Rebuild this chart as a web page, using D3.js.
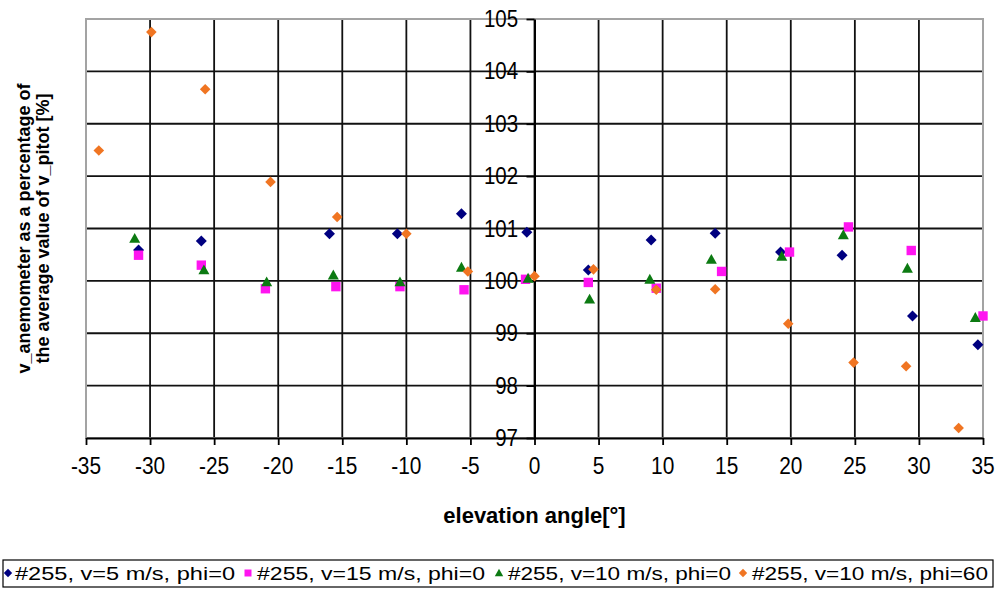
<!DOCTYPE html>
<html>
<head>
<meta charset="utf-8">
<script src="https://cdn.jsdelivr.net/npm/d3@7"></script>
<style>
  body { margin: 0; background: #fff; }
  svg { display: block; }
  text { font-family: "Liberation Sans", Arial, sans-serif; fill: #000; }
</style>
</head>
<body>
<svg id="chart" width="997" height="590"></svg>
<script>
// ---- data -------------------------------------------------------------
const xTickValues = [-35, -30, -25, -20, -15, -10, -5, 0, 5, 10, 15, 20, 25, 30, 35];
const yTickValues = [97, 98, 99, 100, 101, 102, 103, 104, 105];

const seriesNames = [
  "#255, v=5 m/s, phi=0",
  "#255, v=15 m/s, phi=0",
  "#255, v=10 m/s, phi=0",
  "#255, v=10 m/s, phi=60"
];

// #255, v=5 m/s, phi=0
const angleV5 = [-30.9, -26.0, -16.0, -10.7, -5.7, -0.6, 4.2, 9.1, 14.1, 19.2, 24.0, 29.5, 34.6];
const valueV5 = [100.59, 100.76, 100.90, 100.90, 101.28, 100.93, 100.21, 100.78, 100.91, 100.55, 100.49, 99.33, 98.78];

// #255, v=15 m/s, phi=0
const angleV15 = [-30.9, -26.0, -21.0, -15.5, -10.5, -5.5, -0.7, 4.2, 9.5, 14.6, 19.9, 24.5, 29.4, 35.0];
const valueV15 = [100.49, 100.30, 99.85, 99.89, 99.89, 99.83, 100.03, 99.97, 99.86, 100.18, 100.55, 101.03, 100.58, 99.33];

// #255, v=10 m/s, phi=0
const angleV10 = [-31.2, -25.8, -20.9, -15.7, -10.5, -5.7, -0.5, 4.3, 9.0, 13.8, 19.3, 24.1, 29.1, 34.4];
const valueV10 = [100.81, 100.21, 99.98, 100.11, 99.98, 100.26, 100.05, 99.65, 100.03, 100.41, 100.47, 100.88, 100.24, 99.30];

// #255, v=10 m/s, phi=60
const angleV10p60 = [-34.0, -29.9, -25.7, -20.6, -15.4, -10.0, -5.2, 0.0, 4.6, 9.5, 14.1, 19.8, 24.9, 29.0, 33.1];
const valueV10p60 = [102.49, 104.75, 103.66, 101.89, 101.22, 100.90, 100.18, 100.09, 100.22, 99.83, 99.84, 99.18, 98.44, 98.37, 97.19];

// ---- layout ------------------------------------------------------------
const plot = { left: 86, right: 983, top: 19, bottom: 438 };

const svg = d3.select("#chart");
const x = d3.scaleLinear().domain([-35, 35]).range([plot.left, plot.right]);
const y = d3.scaleLinear().domain([97, 105]).range([plot.bottom, plot.top]);

// marker shapes (Excel-style: square-rotated diamond, square, triangle)
const shapes = {
  diamond: r => `M0,${-r}L${r},0L0,${r}L${-r},0Z`,
  square: r => `M${-r},${-r}H${r}V${r}H${-r}Z`,
  triangle: r => `M0,${-r}L${r},${r * 0.8}L${-r},${r * 0.8}Z`
};

const series = [
  { name: seriesNames[0], xs: angleV5, ys: valueV5, shape: "diamond", r: 5.5, color: "#000080" },
  { name: seriesNames[1], xs: angleV15, ys: valueV15, shape: "square", r: 4.7, color: "#ff14f0" },
  { name: seriesNames[2], xs: angleV10, ys: valueV10, shape: "triangle", r: 5.5, color: "#0c7a12" },
  { name: seriesNames[3], xs: angleV10p60, ys: valueV10p60, shape: "diamond", r: 5.3, color: "#f07522" }
];

// ---- plot frame and grid -------------------------------------------------
const grid = svg.append("g");
grid.selectAll("line.v")
  .data(xTickValues.slice(1, -1))
  .join("line")
  .attr("x1", d => x(d)).attr("x2", d => x(d))
  .attr("y1", plot.top).attr("y2", plot.bottom)
  .attr("stroke", "#111").attr("stroke-width", 1.8);
grid.selectAll("line.h")
  .data(yTickValues.slice(1, -1))
  .join("line")
  .attr("x1", plot.left).attr("x2", plot.right)
  .attr("y1", d => y(d)).attr("y2", d => y(d))
  .attr("stroke", "#111").attr("stroke-width", 1.8);

svg.append("rect")
  .attr("x", plot.left).attr("y", plot.top)
  .attr("width", plot.right - plot.left).attr("height", plot.bottom - plot.top)
  .attr("fill", "none").attr("stroke", "#a3a3a3").attr("stroke-width", 2);

// ---- axes -------------------------------------------------------------
const xAxis = svg.append("g")
  .attr("transform", `translate(0,${plot.bottom})`)
  .call(d3.axisBottom(x).tickValues(xTickValues).tickSize(7).tickSizeOuter(0).tickFormat(""));
xAxis.select(".domain").attr("stroke", "#000").attr("stroke-width", 2);
xAxis.selectAll(".tick line").attr("stroke", "#000").attr("stroke-width", 1.8);

const yAxis = svg.append("g")
  .attr("transform", `translate(${x(0)},0)`)
  .call(d3.axisLeft(y).tickValues(yTickValues).tickSize(8).tickSizeOuter(0).tickFormat(""));
yAxis.select(".domain").attr("stroke", "#000").attr("stroke-width", 2);
yAxis.selectAll(".tick line").attr("stroke", "#000").attr("stroke-width", 1.8);

// tick labels (narrow, tall glyphs)
svg.append("g").selectAll("g")
  .data(xTickValues)
  .join("g")
  .attr("transform", d => `translate(${x(d)},474)`)
  .append("text")
  .attr("text-anchor", "middle")
  .attr("transform", "scale(0.95,1.08)")
  .style("font-size", "22px")
  .text(d => d);

svg.append("g").selectAll("g")
  .data(yTickValues)
  .join("g")
  .attr("transform", d => `translate(518,${y(d) + 8})`)
  .append("text")
  .attr("text-anchor", "end")
  .attr("transform", "scale(0.93,1.08)")
  .style("font-size", "22px")
  .text(d => d);

// axis titles
svg.append("text")
  .attr("x", (plot.left + plot.right) / 2)
  .attr("y", 523)
  .attr("text-anchor", "middle")
  .style("font-size", "22px").style("font-weight", "bold")
  .text("elevation angle[°]");

const yTitle = svg.append("g")
  .attr("transform", `translate(0,${(plot.top + plot.bottom) / 2}) rotate(-90)`);
yTitle.append("text")
  .attr("x", 0).attr("y", 30)
  .attr("text-anchor", "middle")
  .style("font-size", "18px").style("font-weight", "bold")
  .text("v_anemometer as a percentage of");
yTitle.append("text")
  .attr("x", 0).attr("y", 49)
  .attr("text-anchor", "middle")
  .style("font-size", "18px").style("font-weight", "bold")
  .text("the average value of v_pitot [%]");

// ---- markers ------------------------------------------------------------
series.forEach(s => {
  svg.append("g").selectAll("path")
    .data(s.xs.map((v, i) => [v, s.ys[i]]))
    .join("path")
    .attr("transform", d => `translate(${x(d[0])},${y(d[1])})`)
    .attr("d", shapes[s.shape](s.r))
    .attr("fill", s.color);
});

// ---- legend -------------------------------------------------------------
svg.append("rect")
  .attr("x", 3).attr("y", 560).attr("width", 990).attr("height", 27)
  .attr("fill", "#fff").attr("stroke", "#000").attr("stroke-width", 1.2);

const legendItems = [
  { marker: 8, textX: 15, width: 220 },
  { marker: 248, textX: 257, width: 228 },
  { marker: 499, textX: 508, width: 223 },
  { marker: 743, textX: 752, width: 236 }
];

const legend = svg.append("g");
series.forEach((s, i) => {
  const it = legendItems[i];
  legend.append("path")
    .attr("transform", `translate(${it.marker},573)`)
    .attr("d", shapes[s.shape](s.shape === "square" ? 3.5 : 4.2))
    .attr("fill", s.color);
  legend.append("text")
    .attr("x", it.textX).attr("y", 580)
    .attr("textLength", it.width)
    .attr("lengthAdjust", "spacingAndGlyphs")
    .style("font-size", "19px")
    .text(s.name);
});
</script>
</body>
</html>
